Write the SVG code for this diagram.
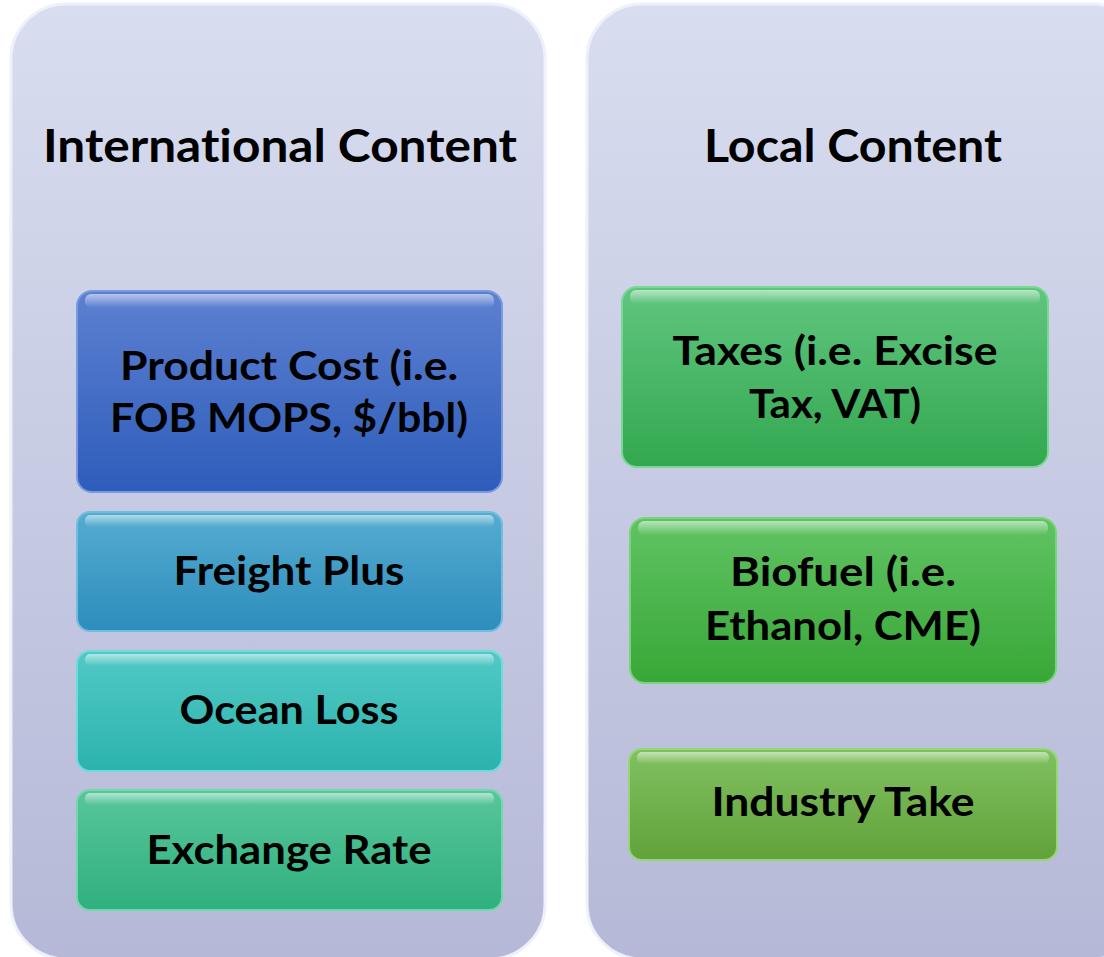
<svg xmlns="http://www.w3.org/2000/svg" width="1104" height="957" viewBox="0 0 1104 957">
<defs>
<linearGradient id="gPanel" x1="0" y1="0" x2="0" y2="1"><stop offset="0" stop-color="#d8ddef"/><stop offset="1" stop-color="#b5b9d7"/></linearGradient>
<linearGradient id="gBlue" x1="0" y1="0" x2="0" y2="1"><stop offset="0" stop-color="#5d80d1"/><stop offset="1" stop-color="#2d5dba"/></linearGradient>
<linearGradient id="gFreight" x1="0" y1="0" x2="0" y2="1"><stop offset="0" stop-color="#55acd0"/><stop offset="1" stop-color="#2d8dbc"/></linearGradient>
<linearGradient id="gOcean" x1="0" y1="0" x2="0" y2="1"><stop offset="0" stop-color="#52c9c6"/><stop offset="1" stop-color="#2bb3ae"/></linearGradient>
<linearGradient id="gEx" x1="0" y1="0" x2="0" y2="1"><stop offset="0" stop-color="#58c69a"/><stop offset="1" stop-color="#2fb07f"/></linearGradient>
<linearGradient id="gTax" x1="0" y1="0" x2="0" y2="1"><stop offset="0" stop-color="#60c67e"/><stop offset="1" stop-color="#33a750"/></linearGradient>
<linearGradient id="gBio" x1="0" y1="0" x2="0" y2="1"><stop offset="0" stop-color="#60c363"/><stop offset="1" stop-color="#38a737"/></linearGradient>
<linearGradient id="gInd" x1="0" y1="0" x2="0" y2="1"><stop offset="0" stop-color="#80c160"/><stop offset="1" stop-color="#62a23a"/></linearGradient>
<linearGradient id="gHi" x1="0" y1="0" x2="0" y2="1"><stop offset="0" stop-color="#ffffff" stop-opacity="0.55"/><stop offset="1" stop-color="#ffffff" stop-opacity="0"/></linearGradient>
</defs>
<style>
.panel{fill:url(#gPanel);stroke:#eef0fa;stroke-width:3}
.box{stroke-width:2}
.hi{fill:url(#gHi)}
.title{font-family:Lato,"Open Sans","Liberation Sans",sans-serif;font-weight:bold;font-size:45px;fill:#000;text-anchor:middle;font-variant-ligatures:none;font-feature-settings:"liga" 0}
.lbl{font-family:Lato,"Open Sans","Liberation Sans",sans-serif;font-weight:bold;font-size:40px;fill:#000;text-anchor:middle;font-variant-ligatures:none;font-feature-settings:"liga" 0}
</style>
<g id="panel-international">
<rect class="panel" x="11" y="4" width="534" height="955" rx="55"/>
<text class="title" x="280" y="162" textLength="474" lengthAdjust="spacingAndGlyphs">International Content</text>
</g>
<g id="panel-local">
<rect class="panel" x="587" y="4" width="560" height="955" rx="55"/>
<text class="title" x="853" y="162" textLength="298" lengthAdjust="spacingAndGlyphs">Local Content</text>
</g>
<g id="node-product">
<rect class="box" x="77" y="291" width="425" height="201" rx="15" fill="url(#gBlue)" stroke="#7a9ae0"/>
<rect class="hi" x="85" y="294" width="409" height="14" rx="6"/>
<text class="lbl" x="289" y="380" textLength="338" lengthAdjust="spacingAndGlyphs">Product Cost (i.e.</text>
<text class="lbl" x="289" y="432" textLength="358" lengthAdjust="spacingAndGlyphs">FOB MOPS, $/bbl)</text>
</g>
<g id="node-freight">
<rect class="box" x="77" y="512" width="425" height="119" rx="13" fill="url(#gFreight)" stroke="#70bde0"/>
<rect class="hi" x="85" y="515" width="409" height="12" rx="5"/>
<text class="lbl" x="289" y="585" textLength="231" lengthAdjust="spacingAndGlyphs">Freight Plus</text>
</g>
<g id="node-ocean">
<rect class="box" x="77" y="651" width="425" height="120" rx="13" fill="url(#gOcean)" stroke="#6ddcd8"/>
<rect class="hi" x="85" y="654" width="409" height="12" rx="5"/>
<text class="lbl" x="289" y="724" textLength="219" lengthAdjust="spacingAndGlyphs">Ocean Loss</text>
</g>
<g id="node-exchange">
<rect class="box" x="77" y="790" width="425" height="120" rx="13" fill="url(#gEx)" stroke="#70d8aa"/>
<rect class="hi" x="85" y="793" width="409" height="12" rx="5"/>
<text class="lbl" x="289" y="864" textLength="285" lengthAdjust="spacingAndGlyphs">Exchange Rate</text>
</g>
<g id="node-taxes">
<rect class="box" x="622" y="287" width="426" height="180" rx="15" fill="url(#gTax)" stroke="#7ad894"/>
<rect class="hi" x="630" y="290" width="410" height="14" rx="6"/>
<text class="lbl" x="835" y="365" textLength="325" lengthAdjust="spacingAndGlyphs">Taxes (i.e. Excise</text>
<text class="lbl" x="835" y="418" textLength="172" lengthAdjust="spacingAndGlyphs">Tax, VAT)</text>
</g>
<g id="node-biofuel">
<rect class="box" x="630" y="518" width="426" height="165" rx="15" fill="url(#gBio)" stroke="#78d47a"/>
<rect class="hi" x="638" y="521" width="410" height="14" rx="6"/>
<text class="lbl" x="843" y="586" textLength="226" lengthAdjust="spacingAndGlyphs">Biofuel (i.e.</text>
<text class="lbl" x="843" y="640" textLength="276" lengthAdjust="spacingAndGlyphs">Ethanol, CME)</text>
</g>
<g id="node-industry">
<rect class="box" x="629" y="749" width="428" height="111" rx="13" fill="url(#gInd)" stroke="#96d676"/>
<rect class="hi" x="637" y="752" width="412" height="12" rx="5"/>
<text class="lbl" x="843" y="816" textLength="263" lengthAdjust="spacingAndGlyphs">Industry Take</text>
</g>
<g id="connectors"></g>
</svg>
